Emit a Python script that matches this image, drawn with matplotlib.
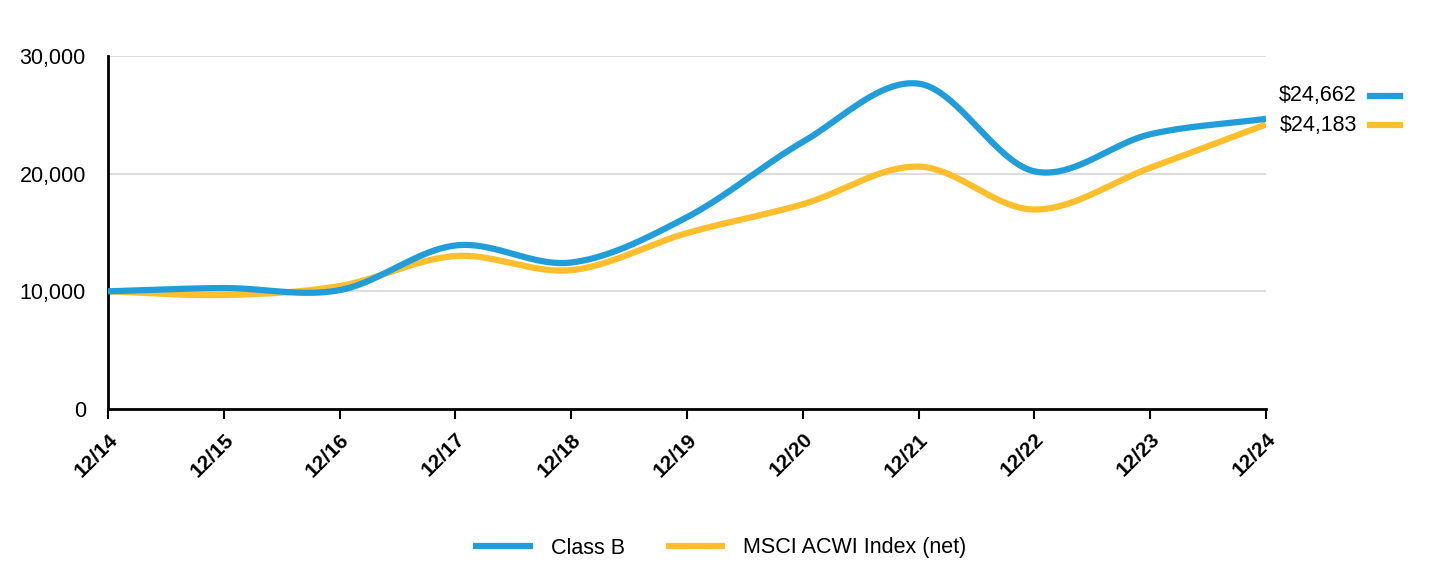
import numpy as np
import matplotlib
import matplotlib.pyplot as plt

matplotlib.use("agg")

plt.rcParams["font.family"] = ["Liberation Sans", "DejaVu Sans"]

years = ["12/14", "12/15", "12/16", "12/17", "12/18", "12/19",
         "12/20", "12/21", "12/22", "12/23", "12/24"]
class_b = [10000, 10280, 10100, 13900, 12450, 16300,
           22700, 27650, 20200, 23350, 24662]
msci = [10000, 9690, 10450, 13000, 11800, 14950,
        17400, 20600, 16950, 20500, 24183]
series_names = ["Class B", "MSCI ACWI Index (net)"]
end_labels = ["$24,662", "$24,183"]

BLUE = "#219ED9"
GOLD = "#FFBE2B"


def catmull_rom(y, steps=40):
    # smooth line through the points, drawing only
    y = np.asarray(y, dtype=float)
    n = len(y)
    ext = np.concatenate([[2 * y[0] - y[1]], y, [2 * y[-1] - y[-2]]])
    xs, ys = [], []
    for i in range(n - 1):
        p0, p1, p2, p3 = ext[i], ext[i + 1], ext[i + 2], ext[i + 3]
        t = np.linspace(0, 1, steps, endpoint=(i == n - 2))
        m1 = (p2 - p0) / 2
        m2 = (p3 - p1) / 2
        h00 = 2 * t**3 - 3 * t**2 + 1
        h10 = t**3 - 2 * t**2 + t
        h01 = -2 * t**3 + 3 * t**2
        h11 = t**3 - t**2
        xs.append(i + t)
        ys.append(h00 * p1 + h10 * m1 + h01 * p2 + h11 * m2)
    return np.concatenate(xs), np.concatenate(ys)


fig = plt.figure(figsize=(14.4, 5.64), dpi=100)
ax = fig.add_axes([108 / 1440, 155 / 564, 1158 / 1440, 353 / 564])

for vals, col, name in [(class_b, BLUE, series_names[0]), (msci, GOLD, series_names[1])]:
    sx, sy = catmull_rom(vals)
    ax.plot(sx, sy, color=col, lw=4.5, solid_capstyle="butt", label=name,
            zorder=3 if col == BLUE else 2)

ax.set_xlim(0, len(years) - 1)
ax.set_ylim(0, 30000)
ax.set_yticks([0, 10000, 20000, 30000])
ax.set_yticklabels(["0", "10,000", "20,000", "30,000"])
ax.set_xticks(range(len(years)))
ax.set_xticklabels(years, rotation=45, ha="right", rotation_mode="anchor",
                   fontweight="bold", fontsize=15)
ax.tick_params(axis="y", length=0, labelsize=15.5, pad=16)
ax.tick_params(axis="x", length=7, width=1.5, color="black", pad=8)
ax.yaxis.grid(True, color="#dddddd", lw=1.5)
ax.set_axisbelow(True)
for s in ["top", "right"]:
    ax.spines[s].set_visible(False)
for s in ["left", "bottom"]:
    ax.spines[s].set_linewidth(2)
    ax.spines[s].set_color("black")

# end value labels at the right
for i, (lab, col) in enumerate(zip(end_labels, [BLUE, GOLD])):
    y = 1 - (96 + 29 * i) / 564
    fig.text(1357 / 1440, y, lab, ha="right", va="center", fontsize=15.5)
    fig.add_artist(plt.Line2D([1370 / 1440, 1400 / 1440], [y, y], color=col,
                              lw=4.5, transform=fig.transFigure))

fig.legend(loc="center", ncol=2, frameon=False, fontsize=15.5,
           bbox_to_anchor=(0.5, 1 - 548 / 564), handlelength=2.75,
           columnspacing=1.9, handletextpad=0.85)

fig.savefig("out.png", dpi=100)
